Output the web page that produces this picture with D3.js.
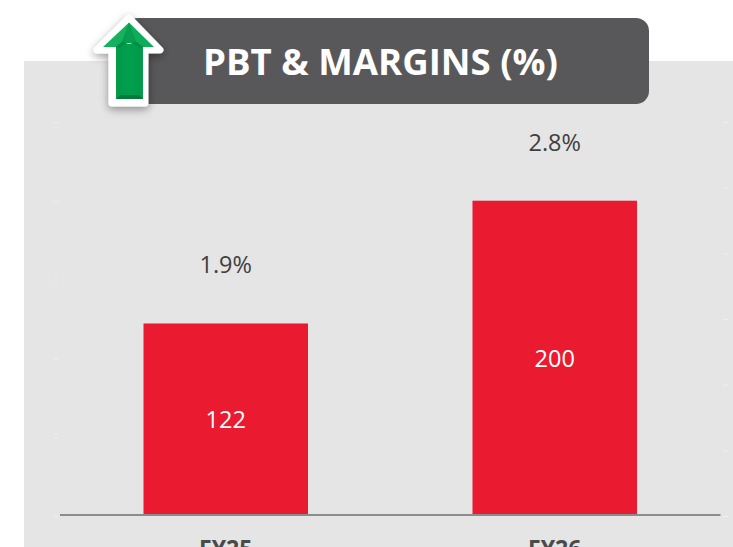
<!DOCTYPE html>
<html><head><meta charset="utf-8">
<style>html,body{margin:0;padding:0;background:#fff;overflow:hidden}svg{display:block}</style>
<script src="https://cdn.jsdelivr.net/npm/d3@7/dist/d3.min.js"></script>
</head><body><div id="c"></div>
<script>
const categories = ["FY25", "FY26"];
const pbtValues = [122, 200];
const marginValues = [1.9, 2.8];
const leftTicks = [0, 50, 100, 150, 200, 250];
const rightTicks = [0, 0.5, 1, 1.5, 2, 2.5, 3];
const titleText = "PBT & MARGINS (%)";

const W = 733, H = 547;
const svg = d3.select("#c").append("svg").attr("width", W).attr("height", H);
const defs = svg.append("defs");
const sh = defs.append("filter").attr("id","shadow").attr("x","-30%").attr("y","-30%").attr("width","160%").attr("height","160%");
sh.append("feDropShadow").attr("dx",0).attr("dy",3).attr("stdDeviation",4).attr("flood-color","#000").attr("flood-opacity",0.38);
const g1 = defs.append("linearGradient").attr("id","stem").attr("x1",0).attr("x2",1).attr("y1",0).attr("y2",0);
[[0,"#089a4c"],[0.15,"#009a4b"],[0.5,"#00a04e"],[0.85,"#009a4b"],[1,"#089a4c"]].forEach(s=>g1.append("stop").attr("offset",s[0]).attr("stop-color",s[1]));

svg.append("rect").attr("x",24).attr("y",61).attr("width",W-24).attr("height",H-61).attr("fill","#e5e5e5");

const x = d3.scaleBand().domain(categories).range([61.25,719.25]).paddingInner(0.5).paddingOuter(0.25);
const y = d3.scaleLinear().domain([0,250]).range([515.5,122]);
const y2 = d3.scaleLinear().domain([0,3]).range([516,122]);
const yLabel = d3.scaleLinear().domain([0,3]).range([521.6,114.7]);

const axL = svg.append("g").attr("transform","translate(58,0)")
  .call(d3.axisLeft(y2.copy().domain([0,250])).tickValues(leftTicks).tickSize(4).tickFormat(""));
const axR = svg.append("g").attr("transform","translate(723,0)")
  .call(d3.axisRight(y2).tickValues(rightTicks).tickSize(5).tickFormat(""));
[axL,axR].forEach(a=>{a.select(".domain").remove();a.selectAll("line").attr("stroke","#efefef").attr("stroke-width",1);});

svg.selectAll("rect.bar").data(categories).join("rect").attr("class","bar")
  .attr("x",d=>x(d)).attr("width",x.bandwidth())
  .attr("y",(d,i)=>y(pbtValues[i])).attr("height",(d,i)=>y(0)-y(pbtValues[i]))
  .attr("fill","#ea1b30");

svg.append("line").attr("x1",60).attr("x2",720.5).attr("y1",515).attr("y2",515).attr("stroke","#8c8c8c").attr("stroke-width",2);

const font = "Open Sans, sans-serif";
svg.selectAll("text.val").data(categories).join("text").attr("class","val")
  .attr("x",d=>x(d)+x.bandwidth()/2).attr("y",(d,i)=>(y(pbtValues[i])+y(0))/2)
  .attr("text-anchor","middle").attr("dominant-baseline","central")
  .attr("font-family",font).attr("font-size",23.5).attr("fill","#fff")
  .text((d,i)=>pbtValues[i]);
svg.selectAll("text.mar").data(categories).join("text").attr("class","mar")
  .attr("x",d=>x(d)+x.bandwidth()/2).attr("y",(d,i)=>yLabel(marginValues[i]))
  .attr("text-anchor","middle").attr("dominant-baseline","central")
  .attr("font-family",font).attr("font-size",23.5).attr("fill","#404040")
  .text((d,i)=>marginValues[i].toFixed(1)+"%");
svg.selectAll("text.cat").data(categories).join("text").attr("class","cat")
  .attr("x",d=>x(d)+x.bandwidth()/2).attr("y",557)
  .attr("text-anchor","middle")
  .attr("font-family",font).attr("font-weight",700).attr("font-size",23).attr("fill","#4a4a4a")
  .text(d=>d);

svg.append("rect").attr("x",125).attr("y",18).attr("width",524).attr("height",86).attr("rx",13).attr("fill","#58585a");
svg.append("text").attr("x",380.5).attr("y",75).attr("text-anchor","middle")
  .attr("font-family",font).attr("font-weight",700).attr("font-size",36.5).attr("fill","#fff")
  .attr("textLength",355).attr("lengthAdjust","spacingAndGlyphs").text(titleText);

const outline = [[129,18],[160,50],[145,50],[145,103],[112,103],[112,50],[97,50]];
const line = d3.line();
svg.append("path").attr("d",line(outline)+"Z").attr("fill","#fff").attr("stroke","#fff").attr("stroke-width",7).attr("stroke-linejoin","round").attr("filter","url(#shadow)");
const facets = [
 {p:[[116,44],[143,44],[143,99],[116,99]],f:"url(#stem)"},
 {p:[[129,22.5],[103,47],[116,47],[122,41],[129,40]],f:"#14b25e"},
 {p:[[129,22.5],[154,47],[143,47],[136,41],[129,40]],f:"#0fac59"},
 {p:[[129,22.5],[122,41],[116,47],[129,43],[143,47],[136,41]],f:"#079e50"},
 {p:[[116,47],[122,41],[126,43],[119,48]],f:"#008f45"},
 {p:[[143,47],[136,41],[132,43],[140,48]],f:"#008f45"},
 {p:[[116,99],[120,95],[139,95],[143,99]],f:"#007a3a"}
];
svg.selectAll("path.f").data(facets).join("path").attr("class","f").attr("d",d=>line(d.p)+"Z").attr("fill",d=>d.f);
</script></body></html>
